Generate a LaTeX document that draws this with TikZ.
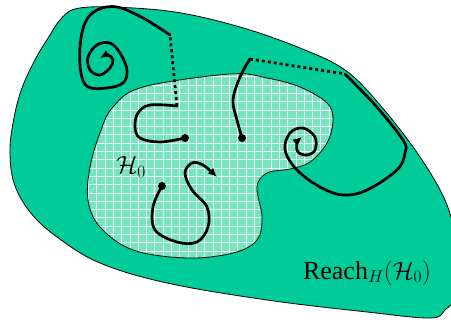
\documentclass[tikz,border=0pt]{standalone}
\usepackage{fontspec}
\setmainfont{Liberation Serif}
\usetikzlibrary{arrows.meta}
\definecolor{reachgreen}{RGB}{0, 204, 153}
\definecolor{initmint}{RGB}{120, 228, 192}

\begin{document}
\begin{tikzpicture}[
    x=1pt, y=-1pt,
    region/.style={draw=black, line width=0.8pt},
    trajline/.style={line width=2.7pt, line cap=round, line join=round},
    jumpline/.style={line width=2.7pt, dash pattern=on 3pt off 3pt},
    endtip/.style={-{Latex[length=9pt, width=8pt]}},
    startdot/.style={circle, fill=black, inner sep=0pt, minimum size=8pt}
]
\useasboundingbox (0,0) rectangle (451,320);
\clip (0,0) rectangle (451,320);
% reachable set
\fill[reachgreen] plot[smooth cycle, tension=0.6] coordinates {
    (60,20) (75,9) (110,7) (175,12) (240,27) (300,48) (345,70) (380,105)
    (420,157) (447,205) (456,250) (455,295) (445,310) (430,318) (367,312)
    (267,300) (167,283) (100,263) (57,237) (30,212) (14,183) (10,150)
    (14,118) (22,88) (36,58) (50,35)};
\draw[region] plot[smooth cycle, tension=0.6] coordinates {
    (60,20) (75,9) (110,7) (175,12) (240,27) (300,48) (345,70) (380,105)
    (420,157) (447,205) (456,250) (455,295) (445,310) (430,318) (367,312)
    (267,300) (167,283) (100,263) (57,237) (30,212) (14,183) (10,150)
    (14,118) (22,88) (36,58) (50,35)};
% initial set
\begin{scope}
\clip plot[smooth cycle, tension=0.6] coordinates {
    (230,74) (267,78) (300,87) (327,103) (333,120) (327,143) (310,162)
    (290,169) (267,173) (257,187) (262,217) (257,240) (233,253) (187,258)
    (133,250) (100,227) (88,200) (90,167) (100,133) (113,107) (143,87)};
\fill[initmint] (80,60) rectangle (340,265);
\foreach \k in {0,...,32} {
    \draw[white!85!initmint, line width=0.5pt] (80+8.3*\k,60) -- (80+8.3*\k,265);
}
\foreach \k in {0,...,25} {
    \draw[white!85!initmint, line width=0.5pt] (80,60+8.3*\k) -- (340,60+8.3*\k);
}
\end{scope}
\draw[region] plot[smooth cycle, tension=0.6] coordinates {
    (230,74) (267,78) (300,87) (327,103) (333,120) (327,143) (310,162)
    (290,169) (267,173) (257,187) (262,217) (257,240) (233,253) (187,258)
    (133,250) (100,227) (88,200) (90,167) (100,133) (113,107) (143,87)};
% labels
\node[font=\fontsize{26}{26}\selectfont] (h0) at (131,167) {$\mathcal{H}_0$};
\node[font=\fontsize{26}{26}\selectfont] (reach) at (367,273) {Reach$_H(\mathcal{H}_0)$};
% trajectory points
\node[startdot] (s1) at (185,138) {};
\node[startdot] (s2) at (242,138) {};
\node[startdot] (s3) at (162,186) {};
\coordinate (j1a) at (170,35);
\coordinate (j1b) at (177,106);
\coordinate (j2a) at (250,59);
\coordinate (j2b) at (345,74);
% first trajectory, with a jump back into the initial set
\draw[trajline] plot[smooth, tension=0.6] coordinates {
    (185,138) (160,142) (140,138) (135,127) (138,113) (150,105) (177,106)};
\draw[jumpline] (j1b) -- (j1a);
\draw[trajline, endtip] plot[smooth, tension=0.6] coordinates {
    (170,35) (143,18) (117,7) (97,10) (85,23) (80,47) (81,73) (88,87)
    (107,88) (123,83) (127,70) (120,53) (110,43) (97,45) (88,57) (90,70)
    (100,75) (110,68) (113,60) (108,55) (100,58)};
% second trajectory
\draw[trajline] plot[smooth, tension=0.6] coordinates {
    (242,138) (237,120) (233,100) (240,77) (250,59)};
\draw[jumpline] (j2a) -- (j2b);
\draw[trajline, endtip] plot[smooth, tension=0.6] coordinates {
    (345,74) (375,105) (403,140) (405,153) (397,170) (367,190) (343,195)
    (320,187) (297,170) (285,150) (290,133) (303,128) (315,137) (315,150)
    (307,155) (298,152) (297,143) (302,137)};
% third trajectory
\draw[trajline, endtip] plot[smooth, tension=0.6] coordinates {
    (162,186) (153,207) (155,230) (177,242) (197,242) (208,227) (207,207)
    (192,190) (185,173) (192,163) (203,165) (217,177)};
\end{tikzpicture}
\end{document}
